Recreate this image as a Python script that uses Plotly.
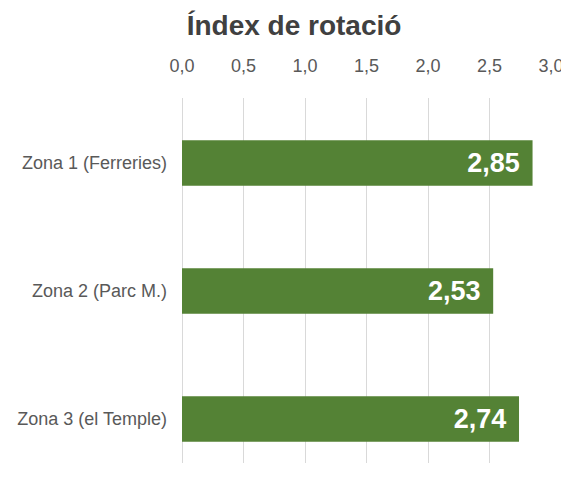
import plotly.graph_objects as go

categories = ["Zona 1 (Ferreries)", "Zona 2 (Parc M.)", "Zona 3 (el Temple)"]
values = [2.85, 2.53, 2.74]
x_ticks = [0.0, 0.5, 1.0, 1.5, 2.0, 2.5, 3.0]

FONT = "Liberation Sans, Arial, sans-serif"

# page body has an 8px default margin, so the figure is sized to fit the 569x477 window
W, H = 561, 455

fig = go.Figure(
    go.Bar(
        x=values,
        y=categories,
        orientation="h",
        marker=dict(color="#548235", line=dict(width=0)),
        width=0.357,
        texttemplate="%{x:.2f}\u00a0\u200a",
        textposition="inside",
        insidetextanchor="end",
        textfont=dict(family=FONT, size=27, color="white", weight="bold"),
        textangle=0,
        hoverinfo="skip",
    )
)

fig.update_layout(
    width=W,
    height=H,
    margin=dict(l=174, r=18, t=90, b=0, autoexpand=False),
    paper_bgcolor="white",
    plot_bgcolor="white",
    separators=",.",
    showlegend=False,
    title=dict(
        text="<b>Índex de rotació</b>",
        font=dict(family=FONT, size=28, color="#404040"),
        x=286 / W,
        xanchor="center",
        xref="container",
        y=1 - 17 / H,
        yanchor="middle",
        yref="container",
    ),
    xaxis=dict(
        side="top",
        range=[0, 3.0],
        tickvals=x_ticks,
        tickformat=".1f",
        showgrid=True,
        gridcolor="#d9d9d9",
        gridwidth=1,
        zeroline=True,
        zerolinecolor="#d9d9d9",
        zerolinewidth=1,
        showline=False,
        ticks="",
        automargin=False,
        ticklabeloverflow="allow",
        ticklabelstandoff=21,
        tickfont=dict(family=FONT, size=18, color="#595959"),
    ),
    yaxis=dict(
        type="category",
        categoryorder="array",
        categoryarray=categories,
        range=[2.344, -0.508],
        showgrid=False,
        zeroline=False,
        showline=False,
        ticks="",
        automargin=False,
        ticklabelstandoff=14,
        tickfont=dict(family=FONT, size=18, color="#595959"),
    ),
)

fig.write_html("out.html")
